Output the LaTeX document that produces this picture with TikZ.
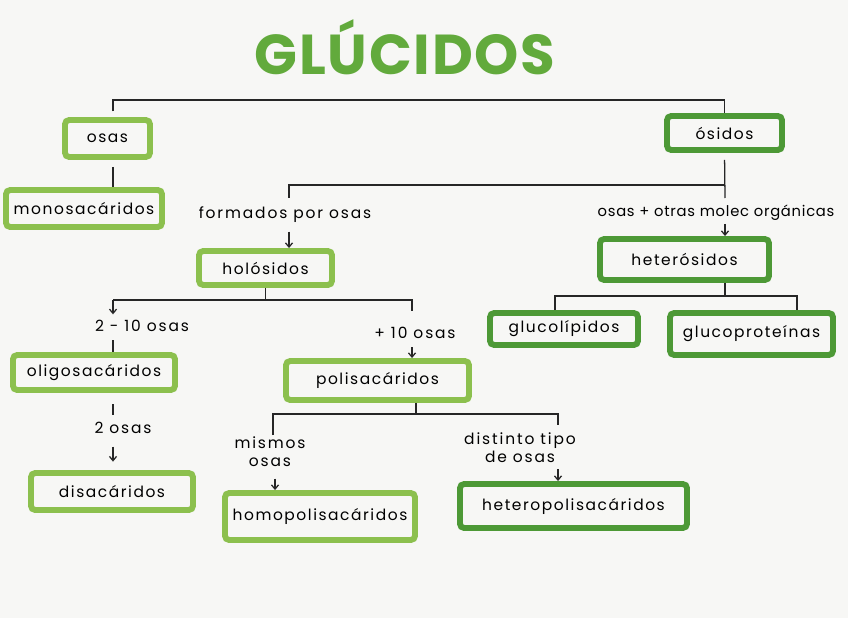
\documentclass[tikz,border=0pt]{standalone}
\usepackage{fontspec}
\setmainfont{Poppins}
\usetikzlibrary{arrows.meta}
\definecolor{glcLight}{HTML}{8CC04E}
\definecolor{glcDark}{HTML}{4D9936}
\definecolor{glcTitle}{HTML}{62AA3C}
\definecolor{glcPaper}{HTML}{F7F7F5}
\begin{document}
\begin{tikzpicture}[x=0.025cm,y=-0.025cm]
\tikzset{
    glcBox/.style={rectangle,draw=glcLight,line width=4.2pt,rounded corners=3pt,align=center,inner sep=0pt,font=\fontsize{11}{13}\selectfont\addfontfeature{LetterSpace=10}},
    glcBoxDark/.style={glcBox,draw=glcDark},
    glcNote/.style={align=center,inner sep=1pt,font=\fontsize{11}{13}\selectfont\addfontfeature{LetterSpace=12}},
    glcLine/.style={line width=0.9pt,draw=black!85},
    glcArrow/.style={glcLine,-{Straight Barb[length=3pt,width=5pt]}},
}
\fill[glcPaper] (0,0) rectangle (848,618);
\useasboundingbox (0,0) rectangle (848,618);

% titulo
\node[font=\fontsize{40}{40}\selectfont\bfseries\addfontfeature{LetterSpace=3},text=glcTitle] (glucidos) at (405,47) {GLÚCIDOS};

% cajas
\node[glcBox,minimum width=2.125cm,minimum height=0.925cm] (osas) at (107.5,138.5) {osas};
\node[glcBox,minimum width=3.9cm,minimum height=0.925cm] (monosac) at (84,208.5) {monosacáridos};
\node[glcBoxDark,minimum width=2.875cm,minimum height=0.85cm] (osidos) at (724.5,133) {ósidos};
\node[glcBox,minimum width=3.325cm,minimum height=0.85cm] (holosidos) at (265.5,268) {holósidos};
\node[glcBoxDark,minimum width=4.225cm,minimum height=1.025cm] (heterosidos) at (684.5,259.5) {heterósidos};
\node[glcBox,minimum width=4.05cm,minimum height=0.875cm] (oligosac) at (94,372.5) {oligosacáridos};
\node[glcBox,minimum width=4.575cm,minimum height=0.975cm] (polisac) at (377.5,380.5) {polisacáridos};
\node[glcBox,minimum width=4.05cm,minimum height=0.925cm] (disac) at (112,491.5) {disacáridos};
\node[glcBox,minimum width=4.75cm,minimum height=1.175cm] (homopolisac) at (320,516.5) {homopolisacáridos};
\node[glcBoxDark,minimum width=5.675cm,minimum height=1.1cm] (heteropolisac) at (573.5,506) {heteropolisacáridos};
\node[glcBoxDark,minimum width=3.7cm,minimum height=0.8cm] (glucolip) at (564,329) {glucolípidos};
\node[glcBoxDark,minimum width=4.075cm,minimum height=1.05cm] (glucoprot) at (751.5,334) {glucoproteínas};

% textos de las flechas
\node[glcNote] (formados) at (285,215) {formados por osas};
\node[glcNote,font=\fontsize{10.5}{12}\selectfont\addfontfeature{LetterSpace=5}] (otrasMolec) at (716,213) {osas + otras molec orgánicas};
\node[glcNote] (dosDiez) at (142,326) {2 - 10 osas};
\node[glcNote] (masDiez) at (415,333) {+ 10 osas};
\node[glcNote] (dosOsas) at (123,428) {2 osas};
\node[glcNote] (mismos) at (270,452) {mismos\\osas};
\node[glcNote] (distinto) at (520,448) {distinto tipo\\de osas};

% puntos de las barras
\coordinate (barTop) at (420,100);
\coordinate (barOsidos) at (500,185);
\coordinate (holoTick) at (289,198);
\coordinate (heteTick) at (725,198);
\coordinate (holoL) at (113,300);
\coordinate (holoR) at (412,300);
\coordinate (polyL) at (273,414);
\coordinate (polyR) at (558,414);
\coordinate (hetL) at (555,296);
\coordinate (hetR) at (797,296);

% conectores
\draw[glcLine,shorten <=4pt] (holoL |- osas.north) -- (holoL |- barTop) -- (osidos.north |- barTop) -- (osidos.north);
\draw[glcLine,shorten <=5pt] (holoL |- osas.south) -- (holoL |- monosac.north);
\draw[glcLine,shorten <=5pt] (osidos.south) -- (heteTick);
\draw[glcLine] (osidos.south |- barOsidos) -- (holoTick |- barOsidos) -- (holoTick);
\draw[glcArrow,shorten <=5pt] (formados.south -| holoTick) -- (holosidos.north -| holoTick);
\draw[glcArrow,shorten <=1pt] (otrasMolec.south -| heteTick) -- (heterosidos.north -| heteTick);

\draw[glcLine] (holosidos.south) -- (holosidos.south |- holoL);
\draw[glcLine] (holoL) -- (holoR) -- ([yshift=-8]holoR);
\draw[glcArrow,shorten >=3pt] (holoL) -- (dosDiez.north -| holoL);
\draw[glcLine,shorten <=5pt] (dosDiez.south -| holoL) -- (oligosac.north -| holoL);
\draw[glcArrow,shorten <=5pt] (masDiez.south -| holoR) -- (polisac.north -| holoR);

\draw[glcLine,shorten <=8pt,shorten >=4pt] (oligosac.south -| holoL) -- (dosOsas.north -| holoL);
\draw[glcArrow,shorten <=8pt,shorten >=6pt] (dosOsas.south -| holoL) -- (disac.north -| holoL);

\draw[glcLine] (polisac.south -| 416,0) -- (416,414);
\draw[glcLine] (polyL |- mismos.north) -- (polyL) -- (polyR) -- ([yshift=-8]polyR);
\draw[glcArrow,shorten <=7pt] (mismos.south -| 275,0) -- (homopolisac.north -| 275,0);
\draw[glcArrow,shorten <=3pt] (distinto.south -| polyR) -- (heteropolisac.north -| polyR);

\draw[glcLine] (heterosidos.south -| heteTick) -- (heteTick |- hetL);
\draw[glcLine] (glucolip.north -| hetL) -- (hetL) -- (hetR) -- (glucoprot.north -| hetR);
\end{tikzpicture}
\end{document}
